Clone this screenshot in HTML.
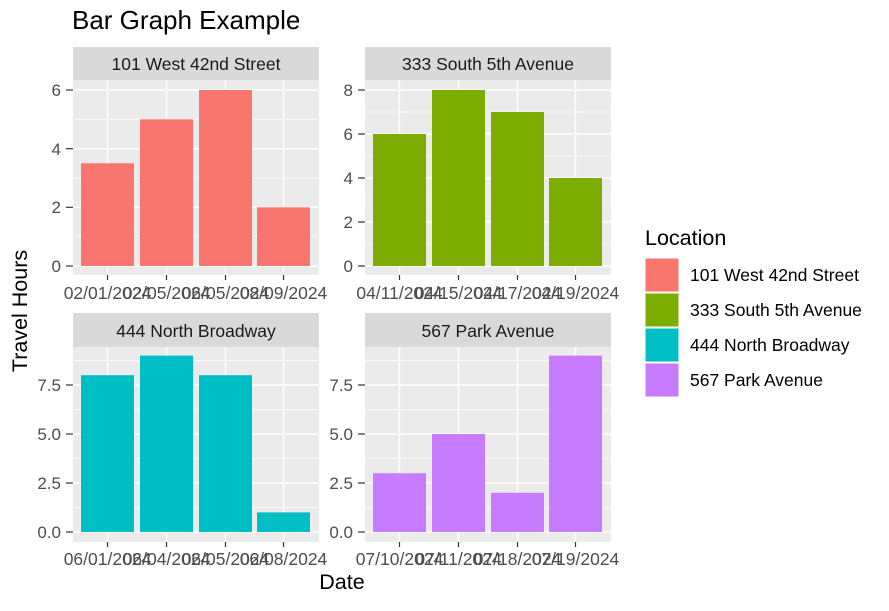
<!DOCTYPE html>
<html><head><style>body{margin:0;background:#fff}</style></head><body>
<svg width="889" height="606" xmlns="http://www.w3.org/2000/svg" font-family="Liberation Sans, sans-serif">
<rect width="889" height="606" fill="#fff"/>
<text x="72" y="29" font-size="26" fill="#000">Bar Graph Example</text>
<!-- Panel 1 -->
<g>
<rect x="73" y="47" width="246" height="33" fill="#D9D9D9"/>
<text x="196" y="70" font-size="17.5" text-anchor="middle" fill="#1A1A1A">101 West 42nd Street</text>
<rect x="73" y="80" width="246" height="195" fill="#EBEBEB"/>
<g stroke="#fff" stroke-width="0.7"><line x1="73" x2="319" y1="236.7" y2="236.7"/><line x1="73" x2="319" y1="178" y2="178"/><line x1="73" x2="319" y1="119.3" y2="119.3"/></g>
<g stroke="#fff" stroke-width="1.4"><line x1="73" x2="319" y1="266" y2="266"/><line x1="73" x2="319" y1="207.3" y2="207.3"/><line x1="73" x2="319" y1="148.7" y2="148.7"/><line x1="73" x2="319" y1="90" y2="90"/>
<line x1="107.5" x2="107.5" y1="80" y2="275"/><line x1="166.5" x2="166.5" y1="80" y2="275"/><line x1="225.5" x2="225.5" y1="80" y2="275"/><line x1="283.5" x2="283.5" y1="80" y2="275"/></g>
<g fill="#F8766D"><rect x="81" y="163.3" width="53" height="102.7"/><rect x="140" y="119.3" width="53" height="146.7"/><rect x="199" y="90" width="53" height="176"/><rect x="257" y="207.3" width="53" height="58.7"/></g>
<g font-size="17" fill="#4D4D4D" text-anchor="end"><text x="61" y="272">0</text><text x="61" y="213">2</text><text x="61" y="155">4</text><text x="61" y="96">6</text></g>
<g stroke="#333" stroke-width="1.2"><line x1="66" x2="73" y1="266" y2="266"/><line x1="66" x2="73" y1="207.3" y2="207.3"/><line x1="66" x2="73" y1="148.7" y2="148.7"/><line x1="66" x2="73" y1="90" y2="90"/>
<line x1="107.5" x2="107.5" y1="275" y2="280"/><line x1="166.5" x2="166.5" y1="275" y2="280"/><line x1="225.5" x2="225.5" y1="275" y2="280"/><line x1="283.5" x2="283.5" y1="275" y2="280"/></g>
<g font-size="17.5" fill="#4D4D4D" text-anchor="middle"><text x="107.5" y="299">02/01/2024</text><text x="166.5" y="299">02/05/2024</text><text x="225.5" y="299">06/05/2024</text><text x="283.5" y="299">08/09/2024</text></g>
</g>
<!-- Panel 2 -->
<g>
<rect x="365" y="47" width="246" height="33" fill="#D9D9D9"/>
<text x="488" y="70" font-size="17.5" text-anchor="middle" fill="#1A1A1A">333 South 5th Avenue</text>
<rect x="365" y="80" width="246" height="195" fill="#EBEBEB"/>
<g stroke="#fff" stroke-width="0.7"><line x1="365" x2="611" y1="244" y2="244"/><line x1="365" x2="611" y1="200" y2="200"/><line x1="365" x2="611" y1="156" y2="156"/><line x1="365" x2="611" y1="112" y2="112"/></g>
<g stroke="#fff" stroke-width="1.4"><line x1="365" x2="611" y1="266" y2="266"/><line x1="365" x2="611" y1="222" y2="222"/><line x1="365" x2="611" y1="178" y2="178"/><line x1="365" x2="611" y1="134" y2="134"/><line x1="365" x2="611" y1="90" y2="90"/>
<line x1="399.5" x2="399.5" y1="80" y2="275"/><line x1="458.5" x2="458.5" y1="80" y2="275"/><line x1="517.5" x2="517.5" y1="80" y2="275"/><line x1="575.5" x2="575.5" y1="80" y2="275"/></g>
<g fill="#7CAE00"><rect x="373" y="134" width="53" height="132"/><rect x="432" y="90" width="53" height="176"/><rect x="491" y="112" width="53" height="154"/><rect x="549" y="178" width="53" height="88"/></g>
<g font-size="17" fill="#4D4D4D" text-anchor="end"><text x="353" y="272">0</text><text x="353" y="228">2</text><text x="353" y="184">4</text><text x="353" y="140">6</text><text x="353" y="96">8</text></g>
<g stroke="#333" stroke-width="1.2"><line x1="358" x2="365" y1="266" y2="266"/><line x1="358" x2="365" y1="222" y2="222"/><line x1="358" x2="365" y1="178" y2="178"/><line x1="358" x2="365" y1="134" y2="134"/><line x1="358" x2="365" y1="90" y2="90"/>
<line x1="399.5" x2="399.5" y1="275" y2="280"/><line x1="458.5" x2="458.5" y1="275" y2="280"/><line x1="517.5" x2="517.5" y1="275" y2="280"/><line x1="575.5" x2="575.5" y1="275" y2="280"/></g>
<g font-size="17.5" fill="#4D4D4D" text-anchor="middle"><text x="399.5" y="299">04/11/2024</text><text x="458.5" y="299">04/15/2024</text><text x="517.5" y="299">04/17/2024</text><text x="575.5" y="299">04/19/2024</text></g>
</g>
<!-- Panel 3 -->
<g>
<rect x="73" y="313" width="246" height="34" fill="#D9D9D9"/>
<text x="196" y="337" font-size="17.5" text-anchor="middle" fill="#1A1A1A">444 North Broadway</text>
<rect x="73" y="347" width="246" height="195" fill="#EBEBEB"/>
<g stroke="#fff" stroke-width="0.7"><line x1="73" x2="319" y1="507.5" y2="507.5"/><line x1="73" x2="319" y1="458.5" y2="458.5"/><line x1="73" x2="319" y1="409.5" y2="409.5"/><line x1="73" x2="319" y1="360.5" y2="360.5"/></g>
<g stroke="#fff" stroke-width="1.4"><line x1="73" x2="319" y1="532" y2="532"/><line x1="73" x2="319" y1="483" y2="483"/><line x1="73" x2="319" y1="434" y2="434"/><line x1="73" x2="319" y1="385" y2="385"/>
<line x1="107.5" x2="107.5" y1="347" y2="542"/><line x1="166.5" x2="166.5" y1="347" y2="542"/><line x1="225.5" x2="225.5" y1="347" y2="542"/><line x1="283.5" x2="283.5" y1="347" y2="542"/></g>
<g fill="#00BFC4"><rect x="81" y="375.2" width="53" height="156.8"/><rect x="140" y="355.6" width="53" height="176.4"/><rect x="199" y="375.2" width="53" height="156.8"/><rect x="257" y="512.4" width="53" height="19.6"/></g>
<g font-size="17" fill="#4D4D4D" text-anchor="end"><text x="61" y="538">0.0</text><text x="61" y="489">2.5</text><text x="61" y="440">5.0</text><text x="61" y="391">7.5</text></g>
<g stroke="#333" stroke-width="1.2"><line x1="66" x2="73" y1="532" y2="532"/><line x1="66" x2="73" y1="483" y2="483"/><line x1="66" x2="73" y1="434" y2="434"/><line x1="66" x2="73" y1="385" y2="385"/>
<line x1="107.5" x2="107.5" y1="542" y2="547"/><line x1="166.5" x2="166.5" y1="542" y2="547"/><line x1="225.5" x2="225.5" y1="542" y2="547"/><line x1="283.5" x2="283.5" y1="542" y2="547"/></g>
<g font-size="17.5" fill="#4D4D4D" text-anchor="middle"><text x="107.5" y="565">06/01/2024</text><text x="166.5" y="565">06/04/2024</text><text x="225.5" y="565">06/05/2024</text><text x="283.5" y="565">06/08/2024</text></g>
</g>
<!-- Panel 4 -->
<g>
<rect x="365" y="313" width="246" height="34" fill="#D9D9D9"/>
<text x="488" y="337" font-size="17.5" text-anchor="middle" fill="#1A1A1A">567 Park Avenue</text>
<rect x="365" y="347" width="246" height="195" fill="#EBEBEB"/>
<g stroke="#fff" stroke-width="0.7"><line x1="365" x2="611" y1="507.5" y2="507.5"/><line x1="365" x2="611" y1="458.5" y2="458.5"/><line x1="365" x2="611" y1="409.5" y2="409.5"/><line x1="365" x2="611" y1="360.5" y2="360.5"/></g>
<g stroke="#fff" stroke-width="1.4"><line x1="365" x2="611" y1="532" y2="532"/><line x1="365" x2="611" y1="483" y2="483"/><line x1="365" x2="611" y1="434" y2="434"/><line x1="365" x2="611" y1="385" y2="385"/>
<line x1="399.5" x2="399.5" y1="347" y2="542"/><line x1="458.5" x2="458.5" y1="347" y2="542"/><line x1="517.5" x2="517.5" y1="347" y2="542"/><line x1="575.5" x2="575.5" y1="347" y2="542"/></g>
<g fill="#C77CFF"><rect x="373" y="473.2" width="53" height="58.8"/><rect x="432" y="434" width="53" height="98"/><rect x="491" y="492.8" width="53" height="39.2"/><rect x="549" y="355.6" width="53" height="176.4"/></g>
<g font-size="17" fill="#4D4D4D" text-anchor="end"><text x="353" y="538">0.0</text><text x="353" y="489">2.5</text><text x="353" y="440">5.0</text><text x="353" y="391">7.5</text></g>
<g stroke="#333" stroke-width="1.2"><line x1="358" x2="365" y1="532" y2="532"/><line x1="358" x2="365" y1="483" y2="483"/><line x1="358" x2="365" y1="434" y2="434"/><line x1="358" x2="365" y1="385" y2="385"/>
<line x1="399.5" x2="399.5" y1="542" y2="547"/><line x1="458.5" x2="458.5" y1="542" y2="547"/><line x1="517.5" x2="517.5" y1="542" y2="547"/><line x1="575.5" x2="575.5" y1="542" y2="547"/></g>
<g font-size="17.5" fill="#4D4D4D" text-anchor="middle"><text x="399.5" y="565">07/10/2024</text><text x="458.5" y="565">07/11/2024</text><text x="517.5" y="565">07/18/2024</text><text x="575.5" y="565">07/19/2024</text></g>
</g>
<text x="342" y="589" font-size="21.5" text-anchor="middle" fill="#000">Date</text>
<text transform="translate(27,311) rotate(-90)" font-size="21.5" text-anchor="middle" fill="#000">Travel Hours</text>
<!-- Legend -->
<text x="645" y="245" font-size="21.5" fill="#000">Location</text>
<rect x="645" y="258" width="34" height="34" fill="#F8766D" stroke="#fff"/>
<rect x="645" y="293" width="34" height="34" fill="#7CAE00" stroke="#fff"/>
<rect x="645" y="328" width="34" height="34" fill="#00BFC4" stroke="#fff"/>
<rect x="645" y="363" width="34" height="34" fill="#C77CFF" stroke="#fff"/>
<g font-size="17.5" fill="#000"><text x="690" y="281">101 West 42nd Street</text><text x="690" y="316">333 South 5th Avenue</text><text x="690" y="351">444 North Broadway</text><text x="690" y="386">567 Park Avenue</text></g>
</svg>
</body></html>
